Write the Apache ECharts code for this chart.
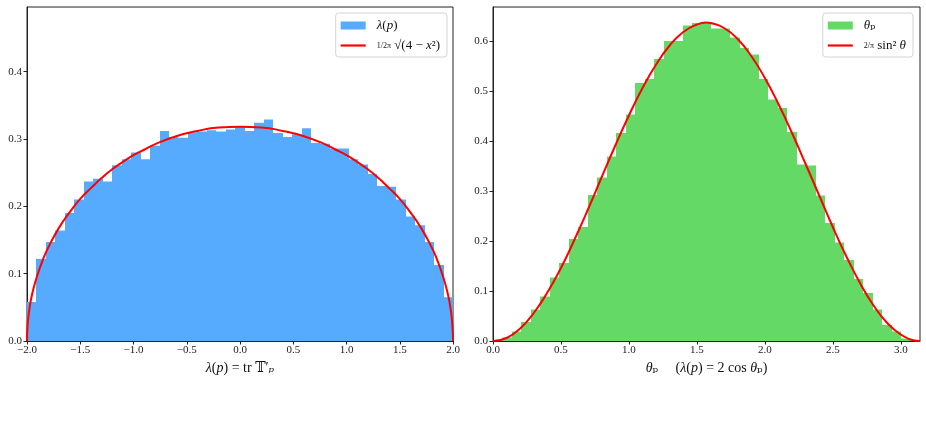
<!DOCTYPE html>
<html>
<head>
<meta charset="utf-8">
<script src="https://cdn.jsdelivr.net/npm/echarts@6/dist/echarts.min.js"></script>
<style>
  html, body { margin: 0; padding: 0; background: #fff; }
  #main { width: 926px; height: 433px; }
</style>
</head>
<body>
<div id="main"></div>
<script>
// left panel: histogram of lambda(p), 45 bins on [-2, 2]
var lambdaRange = [-2, 2];
var lambdaHist = [
  0.058, 0.122, 0.147, 0.164, 0.190, 0.210, 0.237, 0.241, 0.237, 0.261,
  0.270, 0.280, 0.270, 0.290, 0.312, 0.303, 0.302, 0.310, 0.311, 0.313,
  0.311, 0.314, 0.318, 0.312, 0.324, 0.329, 0.309, 0.303, 0.307, 0.316,
  0.294, 0.293, 0.286, 0.286, 0.270, 0.262, 0.248, 0.230, 0.229, 0.210,
  0.185, 0.172, 0.147, 0.113, 0.065
];
// semicircle curve, points
var semiX = [-2, -1.995, -1.98, -1.95, -1.9, -1.85, -1.8, -1.7, -1.6, -1.5, -1.4, -1.3, -1.2, -1.1, -1.0, -0.9, -0.8, -0.6, -0.4, -0.2, 0,
             0.2, 0.4, 0.6, 0.8, 0.9, 1.0, 1.1, 1.2, 1.3, 1.4, 1.5, 1.6, 1.7, 1.8, 1.85, 1.9, 1.95, 1.98, 1.995, 2];
var semiY = [0, 0.022, 0.045, 0.071, 0.099, 0.121, 0.139, 0.168, 0.191, 0.211, 0.227, 0.242, 0.255, 0.266, 0.276, 0.284, 0.292, 0.304, 0.312, 0.317, 0.318,
             0.317, 0.312, 0.304, 0.292, 0.284, 0.276, 0.266, 0.255, 0.242, 0.227, 0.211, 0.191, 0.168, 0.139, 0.121, 0.099, 0.071, 0.045, 0.022, 0];

// right panel: histogram of theta_p, 45 bins on [0, pi]
var thetaRange = [0, Math.PI];
var thetaHist = [
  0.002, 0.007, 0.019, 0.038, 0.063, 0.089, 0.127, 0.156, 0.204, 0.228,
  0.292, 0.327, 0.369, 0.416, 0.453, 0.516, 0.524, 0.564, 0.600, 0.600,
  0.631, 0.636, 0.636, 0.625, 0.625, 0.607, 0.586, 0.573, 0.524, 0.483,
  0.466, 0.418, 0.353, 0.351, 0.291, 0.236, 0.197, 0.162, 0.124, 0.096,
  0.063, 0.032, 0.019, 0.005, 0.001
];
var sinX = [0, 0.1, 0.2, 0.3, 0.4, 0.5, 0.6, 0.7, 0.8, 0.9, 1.0, 1.1, 1.2, 1.3, 1.4, 1.5, 1.57, 1.6, 1.7, 1.8, 1.9,
            2.0, 2.1, 2.2, 2.3, 2.4, 2.5, 2.6, 2.7, 2.8, 2.9, 3.0, 3.1, 3.1416];
var sinY = [0, 0.006, 0.025, 0.056, 0.097, 0.146, 0.203, 0.264, 0.328, 0.391, 0.451, 0.506, 0.553, 0.591, 0.618, 0.633, 0.637, 0.636, 0.626, 0.604, 0.570,
            0.526, 0.474, 0.416, 0.354, 0.291, 0.228, 0.169, 0.116, 0.071, 0.036, 0.013, 0.001, 0];

var leftXTicks = [-2.0, -1.5, -1.0, -0.5, 0.0, 0.5, 1.0, 1.5, 2.0];
var leftYTicks = [0.0, 0.1, 0.2, 0.3, 0.4];
var rightXTicks = [0.0, 0.5, 1.0, 1.5, 2.0, 2.5, 3.0];
var rightYTicks = [0.0, 0.1, 0.2, 0.3, 0.4, 0.5, 0.6];

function bins(range, vals) {
  var w = (range[1] - range[0]) / vals.length;
  return vals.map(function (v, i) {
    return [range[0] + i * w, range[0] + (i + 1) * w, v];
  });
}
function zip(xs, ys) {
  return xs.map(function (x, i) { return [x, ys[i]]; });
}
// one histogram bar, snapped to whole pixels so neighbours meet without seams
function histItem(params, api) {
  var p0 = api.coord([api.value(0), 0]);
  var p1 = api.coord([api.value(1), api.value(2)]);
  var x0 = Math.round(p0[0]), x1 = Math.round(p1[0]);
  return {
    type: 'rect',
    shape: { x: x0, y: p1[1], width: x1 - x0, height: p0[1] - p1[1] },
    style: api.style()
  };
}
function fmt(v) {
  return v.toFixed(1).replace('-', '\u2212');
}

var serif = '"Liberation Serif", "DejaVu Serif", "DejaVu Sans", serif';
var rich = {
  i: { fontFamily: serif, fontStyle: 'italic', fontSize: 13, color: '#111' },
  f: { fontFamily: serif, fontSize: 8, color: '#111' },
  n: { fontFamily: serif, fontSize: 13, color: '#111' }
};

function xAxis(idx, lo, hi, ticks, name) {
  return {
    type: 'value', gridIndex: idx, min: lo, max: hi,
    name: name, nameLocation: 'middle', nameGap: 19,
    nameTextStyle: { fontFamily: serif, fontSize: 14, color: '#111', rich: { i: { fontFamily: serif, fontStyle: 'italic', fontSize: 14 }, n: { fontFamily: serif, fontSize: 14 } } },
    axisLine: { onZero: false, lineStyle: { color: '#222', width: 1 } },
    axisTick: { customValues: ticks, length: 3.5, lineStyle: { color: '#222' } },
    axisLabel: { customValues: ticks, formatter: fmt, margin: 4, fontFamily: serif, fontSize: 11, color: '#222' },
    splitLine: { show: false }
  };
}
function yAxis(idx, lo, hi, ticks) {
  return {
    type: 'value', gridIndex: idx, min: lo, max: hi,
    axisLine: { show: true, onZero: false, lineStyle: { color: '#222', width: 1 } },
    axisTick: { show: true, customValues: ticks, length: 3.5, lineStyle: { color: '#222' } },
    axisLabel: { customValues: ticks, formatter: fmt, margin: 5, fontFamily: serif, fontSize: 11, color: '#222' },
    splitLine: { show: false }
  };
}
function legend(right, names, fmtMap) {
  return {
    orient: 'vertical', right: right, top: 13,
    backgroundColor: '#fff', borderColor: '#d4d4d4', borderWidth: 1, borderRadius: 3,
    padding: [6, 7, 5, 5], itemGap: 7, itemWidth: 25, itemHeight: 8,
    data: [
      { name: names[0], icon: 'rect' },
      { name: names[1], icon: 'path://M0,0H25V2.2H0Z' }
    ],
    formatter: function (n) { return fmtMap[n]; },
    textStyle: { fontFamily: serif, fontSize: 13, color: '#111', padding: [0, 0, 0, 6], rich: rich }
  };
}

var leftNames = ['λ(p)', 'semicircle'];
var rightNames = ['θp', 'sin2'];
var labelMap = {
  'λ(p)': '{i|λ}{n|(}{i|p}{n|)}',
  'semicircle': '{f|1/2π}{n| √(4 − }{i|x}{n|²)}',
  'θp': '{i|θ}{n|ₚ}',
  'sin2': '{f|2/π}{n| sin² }{i|θ}'
};

var chart = echarts.init(document.getElementById('main'));
chart.setOption({
  animation: false,
  backgroundColor: '#fff',
  grid: [
    { left: 27, right: 473, top: 7, bottom: 92, show: true, borderColor: '#222', borderWidth: 1 },
    { left: 493, right: 6, top: 7, bottom: 92, show: true, borderColor: '#222', borderWidth: 1 }
  ],
  xAxis: [
    xAxis(0, lambdaRange[0], lambdaRange[1], leftXTicks, '{i|λ}{n|(}{i|p}{n|) = tr 𝕋′}{i|ₚ}'),
    xAxis(1, thetaRange[0], thetaRange[1], rightXTicks, '{i|θ}{n|ₚ     (}{i|λ}{n|(}{i|p}{n|) = 2 cos }{i|θ}{n|ₚ)}')
  ],
  yAxis: [
    yAxis(0, 0, 0.496, leftYTicks),
    yAxis(1, 0, 0.668, rightYTicks)
  ],
  legend: [
    legend(479, leftNames, labelMap),
    legend(13, rightNames, labelMap)
  ],
  series: [
    {
      name: leftNames[0], type: 'custom', xAxisIndex: 0, yAxisIndex: 0,
      renderItem: histItem, encode: { x: [0, 1], y: 2 },
      itemStyle: { color: '#57abff' },
      data: bins(lambdaRange, lambdaHist)
    },
    {
      name: leftNames[1], type: 'line', xAxisIndex: 0, yAxisIndex: 0,
      data: zip(semiX, semiY), showSymbol: false, symbol: 'none',
      smooth: 0.5,
      lineStyle: { color: '#ff0000', width: 2 }, itemStyle: { color: '#ff0000' }, z: 5
    },
    {
      name: rightNames[0], type: 'custom', xAxisIndex: 1, yAxisIndex: 1,
      renderItem: histItem, encode: { x: [0, 1], y: 2 },
      itemStyle: { color: '#64d966' },
      data: bins(thetaRange, thetaHist)
    },
    {
      name: rightNames[1], type: 'line', xAxisIndex: 1, yAxisIndex: 1,
      data: zip(sinX, sinY), showSymbol: false, symbol: 'none',
      smooth: 0.5,
      lineStyle: { color: '#ff0000', width: 2 }, itemStyle: { color: '#ff0000' }, z: 5
    }
  ]
});
</script>
</body>
</html>
